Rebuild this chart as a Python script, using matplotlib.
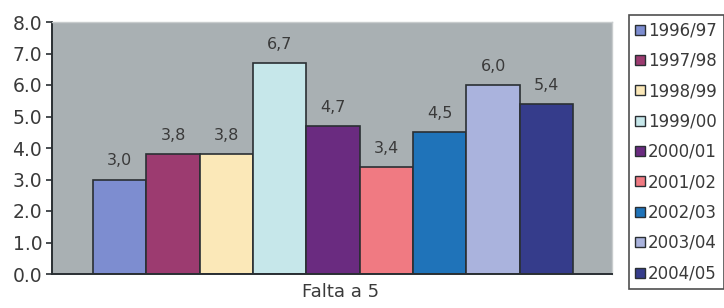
import matplotlib
matplotlib.use("Agg")
import matplotlib.pyplot as plt
import numpy as np

# dados
anos = ["1996/97", "1997/98", "1998/99", "1999/00", "2000/01",
        "2001/02", "2002/03", "2003/04", "2004/05"]
valores = [3.0, 3.8, 3.8, 6.7, 4.7, 3.4, 4.5, 6.0, 5.4]
cores = ["#7d8dd0", "#9c3b70", "#fbe8b8", "#c6e7ea", "#6a2b80",
         "#f07a82", "#1f73b9", "#aab3dd", "#353c8b"]
yticks = [0, 1, 2, 3, 4, 5, 6, 7, 8]
categoria = "Falta a 5"

plt.rcParams['font.family'] = ['DejaVu Sans']
fig = plt.figure(figsize=(7.24, 3.08), dpi=100)
ax = fig.add_axes([52/724, 1-274/308, 560/724, 252/308])
ax.set_facecolor("#a9b0b3")

x = np.arange(len(valores))
ax.bar(x, valores, width=1.0, color=cores, edgecolor="#2a2f33", linewidth=1.2)
for xi, v in zip(x, valores):
    ax.annotate(("%.1f" % v).replace(".", ","), (xi, v), xytext=(0, 8),
                textcoords="offset points", ha="center", va="bottom",
                fontsize=11.5, color="#3a3a3a")

ax.set_xlim(-1.27, 9.23)
ax.set_ylim(0, 8)
ax.set_yticks(yticks)
ax.set_yticklabels(["%.1f" % t for t in yticks], fontsize=13.5, color="#3a3a3a")
ax.set_xticks([])
ax.set_xlabel(categoria, fontsize=13, color="#3a3a3a")
ax.xaxis.set_label_coords(0.515, -0.035)
ax.xaxis.label.set_va("top")
ax.tick_params(axis="y", direction="out", length=4, width=1.2, color="#2a2f33", pad=3)

for s in ["top", "right"]:
    ax.spines[s].set_color("#c8cccd")
    ax.spines[s].set_linewidth(1)
for s in ["left", "bottom"]:
    ax.spines[s].set_color("#2a2f33")
    ax.spines[s].set_linewidth(1.4)

handles = [plt.Line2D([], [], marker="s", linestyle="none", markersize=7,
                      markerfacecolor=c, markeredgecolor="#2a2f33",
                      markeredgewidth=1) for c in cores]
leg = fig.legend(handles, anos, loc="upper left",
                 bbox_to_anchor=(629/724, 1-15/308), fontsize=12,
                 frameon=True, fancybox=False, edgecolor="#222222",
                 handlelength=0.5, handletextpad=0.25, labelspacing=0.74,
                 borderpad=0.4, borderaxespad=0)
leg.get_frame().set_linewidth(1.2)
for t in leg.get_texts():
    t.set_color("#3a3a3a")

fig.savefig("out.png", dpi=100)
